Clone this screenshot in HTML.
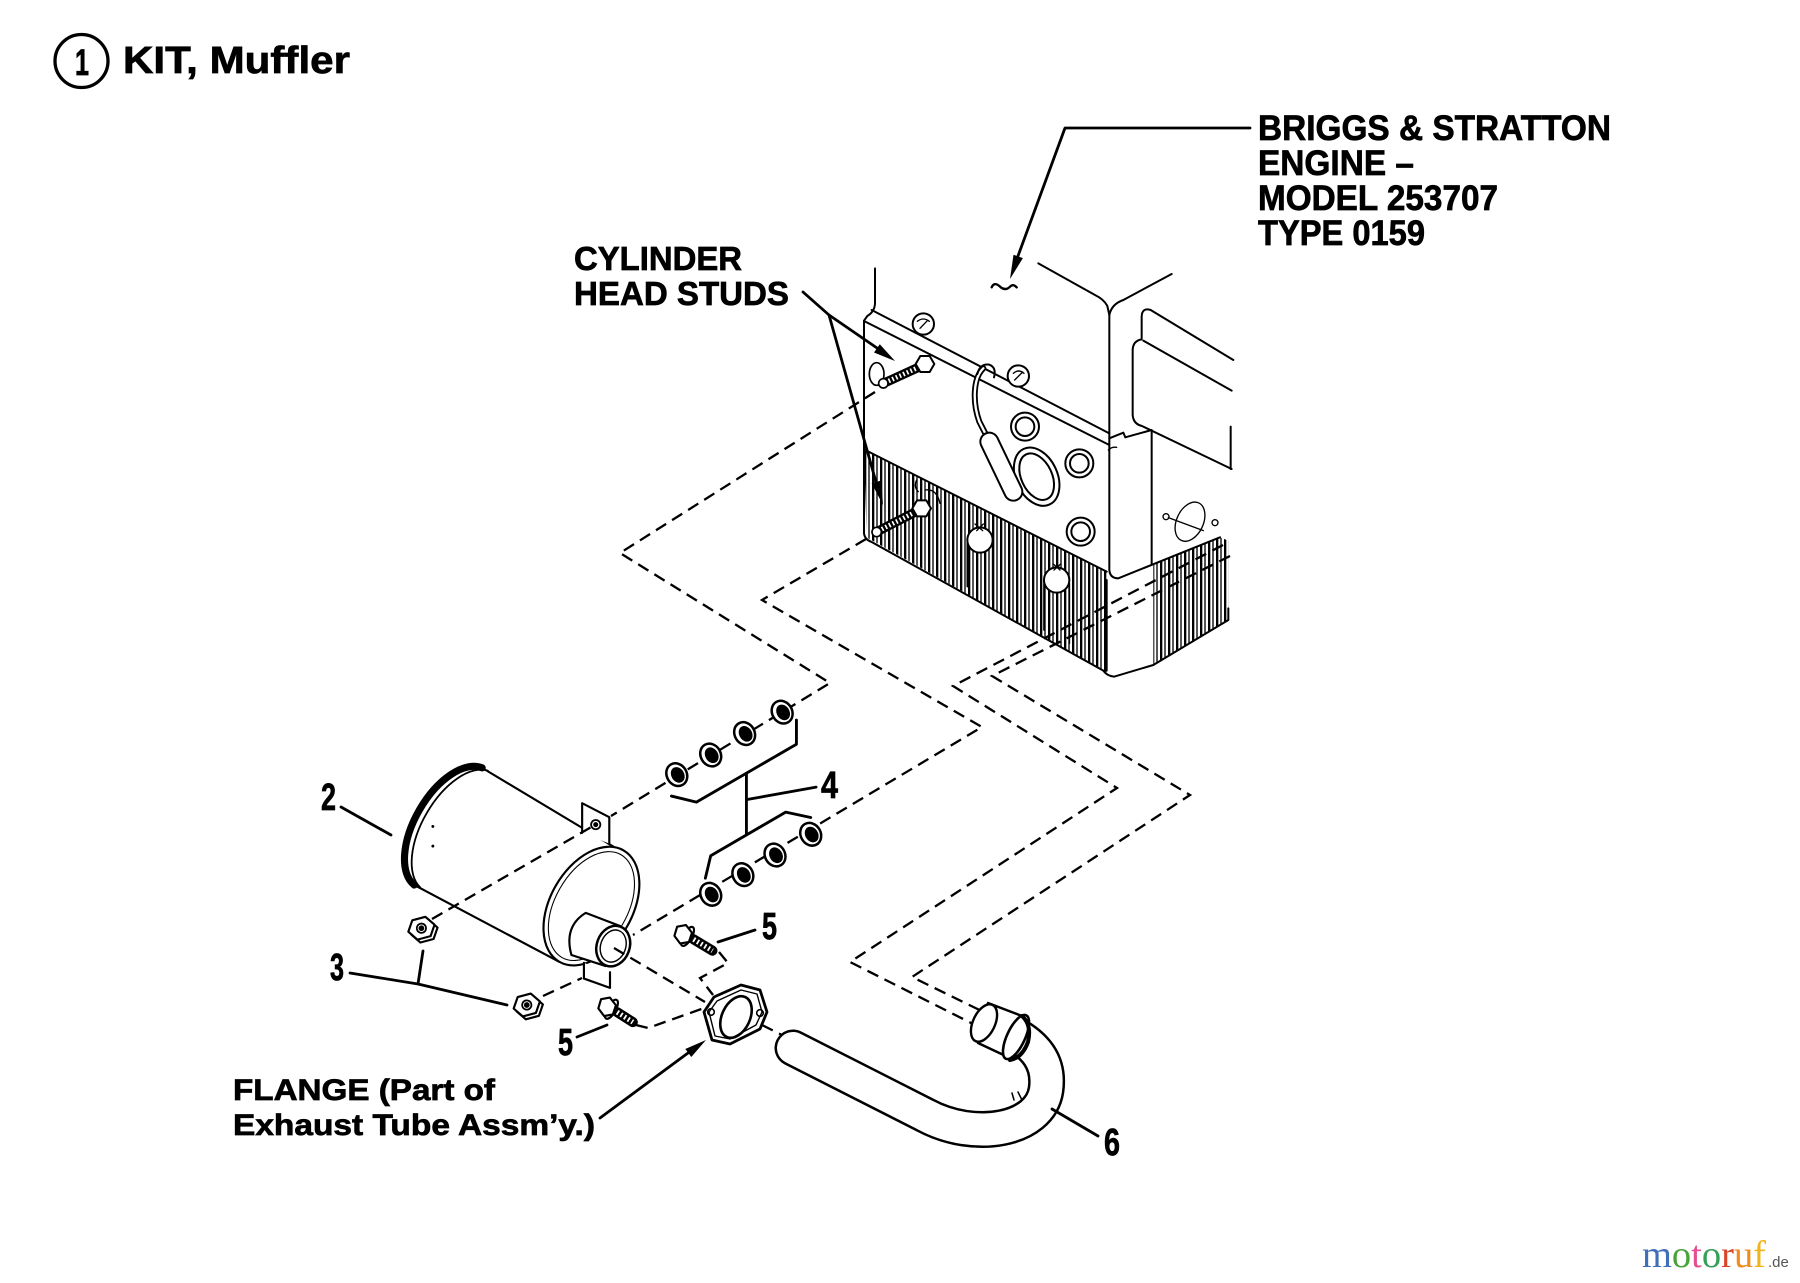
<!DOCTYPE html>
<html><head><meta charset="utf-8"><style>
html,body{margin:0;padding:0;background:#fff;}
svg{display:block;}
text{font-family:"Liberation Sans",Arial,sans-serif;font-weight:bold;fill:#000;stroke:#000;stroke-width:0.7px;}
</style></head><body>
<svg width="1800" height="1283" viewBox="0 0 1800 1283" xmlns="http://www.w3.org/2000/svg">
<defs>
<pattern id="fins" patternUnits="userSpaceOnUse" width="24" height="20">
<rect x="0" y="0" width="7" height="20" fill="#000"/>
<rect x="13" y="0" width="4" height="20" fill="#000"/>
</pattern>
</defs>
<rect width="1800" height="1283" fill="#fff"/>

<!-- ============ TITLE ============ -->
<circle cx="81.5" cy="61" r="26.5" fill="none" stroke="#000" stroke-width="3.3"/>
<text x="75" y="75" font-size="37" textLength="14" lengthAdjust="spacingAndGlyphs">1</text>
<text x="123" y="73" font-size="38" textLength="227" lengthAdjust="spacingAndGlyphs">KIT, Muffler</text>

<!-- ============ ENGINE (zoom coords) ============ -->
<g transform="translate(840,250) scale(0.333333)" stroke="#000" stroke-width="6" fill="none" stroke-linecap="round" stroke-linejoin="round">
<path d="M72,598 L800,965 L800,1268 L80,862 Z" fill="url(#fins)" stroke="none"/>
<path d="M940,943 L1140,862 L1165,872 L1165,1110 L940,1245 Z" fill="url(#fins)" stroke="none"/>
<path d="M105,55 L105,160 Q104,185 82,198 L72,212 L72,850 Q74,868 95,876 L790,1262 Q800,1277 822,1280 L940,1245 L1165,1110 L1165,1075"/>
<path d="M72,598 L800,965"/>
<path d="M95,180 L808,550"/>
<path d="M72,213 L808,585"/>
<path d="M595,40 L765,135 Q792,148 802,168 L808,195 L808,960 Q810,985 835,985 L1140,862"/>
<path d="M808,195 Q815,162 850,150 L995,72"/>
<path d="M808,565 L850,548 L856,562 L935,540 L935,942"/>
<path d="M800,990 L800,1262"/>
<path d="M905,265 L905,200 Q906,172 932,180 L1180,330"/>
<path d="M905,268 Q880,272 878,298 L878,495 Q880,522 906,528 L1175,657"/>
<path d="M910,272 L1175,422"/>
<path d="M1172,530 L1172,657"/>
<path d="M805,600 Q815,590 830,592" stroke-width="4"/>
<!-- fin bolts -->
<path d="M382,872 L382,1010 M458,880 L458,1050" stroke-width="5"/>
<circle cx="420" cy="870" r="38" fill="#fff"/>
<path d="M405,822 L428,842 M430,822 L410,842" stroke-width="4"/>
<path d="M612,992 L612,1140 M688,1000 L688,1180" stroke-width="5"/>
<circle cx="650" cy="990" r="38" fill="#fff"/>
<path d="M640,942 L660,960 M662,942 L642,960" stroke-width="4"/>
<!-- face bolts -->
<circle cx="555" cy="530" r="42" fill="#fff"/><circle cx="555" cy="530" r="28"/>
<circle cx="718" cy="640" r="42" fill="#fff"/><circle cx="718" cy="640" r="28"/>
<circle cx="722" cy="845" r="42" fill="#fff"/><circle cx="722" cy="845" r="28"/>
<!-- top cap screws -->
<circle cx="250" cy="222" r="32" fill="#fff"/><path d="M232,214 Q250,200 268,214 M240,235 L262,212" stroke-width="4"/>
<circle cx="535" cy="378" r="32" fill="#fff"/><path d="M520,370 Q535,356 552,370 M524,390 L548,366" stroke-width="4"/>
<!-- spark plug -->
<ellipse cx="590" cy="680" rx="62" ry="92" transform="rotate(-25 590 680)" fill="#fff"/>
<ellipse cx="590" cy="680" rx="46" ry="74" transform="rotate(-25 590 680)"/>
<path d="M430,355 C398,385 398,460 418,515 L446,570" stroke-width="18"/>
<path d="M430,355 C398,385 398,460 418,515 L446,570" stroke="#fff" stroke-width="7"/>
<path d="M448,575 L520,725" stroke-width="60"/>
<path d="M448,575 L520,725" stroke="#fff" stroke-width="48"/>
<path d="M412,372 Q420,340 448,344 Q470,352 462,382"/>
<!-- upper stud -->
<ellipse cx="110" cy="372" rx="22" ry="34" fill="#fff" stroke-width="5"/>
<path d="M135,398 L240,350" stroke-width="28"/>
<path d="M135,398 L240,350" stroke="#fff" stroke-width="14" stroke-dasharray="5 7" stroke-linecap="butt"/>
<circle cx="130" cy="400" r="14" fill="#fff" stroke-width="5"/>
<polygon points="283,342 269,318 241,318 227,342 241,366 269,366" fill="#fff"/>
<!-- lower stud -->
<path d="M115,843 L232,783" stroke-width="28"/>
<path d="M115,843 L232,783" stroke="#fff" stroke-width="14" stroke-dasharray="5 7" stroke-linecap="butt"/>
<circle cx="110" cy="846" r="14" fill="#fff" stroke-width="5"/>
<polygon points="273,775 259,751 231,751 217,775 231,799 259,799" fill="#fff"/>
<path d="M230,690 Q220,710 235,725 M255,720 Q290,715 300,760" stroke-width="4"/>
<!-- exhaust port -->
<ellipse cx="1050" cy="815" rx="40" ry="62" transform="rotate(25 1050 815)" stroke-width="4"/>
<path d="M985,803 L1090,842" stroke-width="4"/>
<circle cx="978" cy="800" r="9" stroke-width="4"/>
<circle cx="1125" cy="818" r="9" stroke-width="4"/>
<!-- squiggle -->
<path d="M455,112 Q462,95 478,108 Q495,125 510,110 Q520,100 530,112" stroke-width="7"/>
</g>

<!-- ============ MUFFLER BODY (zoom coords) ============ -->
<g transform="translate(300,680) scale(0.357143)" stroke="#000" stroke-width="6" fill="none" stroke-linecap="round" stroke-linejoin="round">
<path d="M510,246 L880,468 L726,789 L320,574 Z" fill="#fff" stroke="none"/>
<path d="M510,246 A100,190 30 0 0 320,574 Z" fill="#fff" stroke="none"/>
<path d="M510,246 L880,468 M320,574 L726,789"/>
<path d="M510,246 A100,190 30 0 0 320,574" stroke-width="20"/>
<path d="M526,254 A100,190 30 0 0 336,580" stroke-width="5"/>
<circle cx="372" cy="410" r="4" fill="#000" stroke="none"/>
<circle cx="372" cy="465" r="4" fill="#000" stroke="none"/>
<path d="M790,428 L790,345 L866,384 L866,458" fill="#fff"/>
<circle cx="828" cy="405" r="13" stroke-width="5"/>
<circle cx="828" cy="405" r="4" fill="#000"/>
<ellipse cx="816" cy="633" rx="115" ry="180" transform="rotate(30 816 633)" fill="#fff"/>
<ellipse cx="816" cy="633" rx="101" ry="166" transform="rotate(30 816 633)" stroke-width="3"/>
<path d="M795,792 L795,836 L868,862 L868,818" fill="#fff"/>
<path d="M800,652 Q738,690 760,770 L856,801 L897,689 Z" fill="#fff" stroke="none"/>
<path d="M760,770 Q738,690 800,652 L897,689 M760,770 L856,801"/>
<ellipse cx="877" cy="745" rx="46" ry="58" transform="rotate(20 877 745)" fill="#fff" stroke-width="7"/>
<ellipse cx="877" cy="745" rx="35" ry="46" transform="rotate(20 877 745)" stroke-width="4"/>
</g>

<!-- ============ DASHED GUIDE LINES ============ -->
<g stroke="#000" stroke-width="2.3" fill="none" stroke-dasharray="12 7">
<path d="M875,392 L620,553 L830,683 L611,816"/>
<path d="M866,539 L762,600 L982,727 L633,935"/>
<path d="M1223,545 L953,686 L1117,788 L850,962 L985,1030"/>
<path d="M1230,556 L992,676 L1190,795 L912,977 L1000,1020"/>
<path d="M432,919 L593,826"/>
<path d="M543,996 L582,978"/>
<path d="M719,952 L728,963 L700,978 L713,995"/>
<path d="M636,1025 L648,1028 L707,1007"/>
<path d="M614,948 L705,1002"/>
<path d="M762,1025 L790,1039"/>
</g>

<!-- ============ SMALL PARTS (zoom coords) ============ -->
<g transform="translate(300,680) scale(0.357143)" stroke="#000" stroke-width="6" fill="none" stroke-linecap="round" stroke-linejoin="round">
<g transform="translate(1055,265) rotate(-30)"><ellipse rx="28" ry="33" fill="#fff" stroke-width="7"/><ellipse cx="2" cy="2" rx="15" ry="20" fill="#000"/></g>
<g transform="translate(1150,210) rotate(-30)"><ellipse rx="28" ry="33" fill="#fff" stroke-width="7"/><ellipse cx="2" cy="2" rx="15" ry="20" fill="#000"/></g>
<g transform="translate(1245,150) rotate(-30)"><ellipse rx="28" ry="33" fill="#fff" stroke-width="7"/><ellipse cx="2" cy="2" rx="15" ry="20" fill="#000"/></g>
<g transform="translate(1350,90) rotate(-30)"><ellipse rx="28" ry="33" fill="#fff" stroke-width="7"/><ellipse cx="2" cy="2" rx="15" ry="20" fill="#000"/></g>
<g transform="translate(1150,600) rotate(-30)"><ellipse rx="28" ry="33" fill="#fff" stroke-width="7"/><ellipse cx="2" cy="2" rx="15" ry="20" fill="#000"/></g>
<g transform="translate(1240,545) rotate(-30)"><ellipse rx="28" ry="33" fill="#fff" stroke-width="7"/><ellipse cx="2" cy="2" rx="15" ry="20" fill="#000"/></g>
<g transform="translate(1330,490) rotate(-30)"><ellipse rx="28" ry="33" fill="#fff" stroke-width="7"/><ellipse cx="2" cy="2" rx="15" ry="20" fill="#000"/></g>
<g transform="translate(1430,432) rotate(-30)"><ellipse rx="28" ry="33" fill="#fff" stroke-width="7"/><ellipse cx="2" cy="2" rx="15" ry="20" fill="#000"/></g>
<g transform="translate(340,695) rotate(-15)">
<polygon points="44,10 25,38 -13,38 -32,10 -13,-18 25,-18" fill="#fff"/>
<polygon points="38,0 19,-28 -19,-28 -38,0 -19,28 19,28" fill="#fff"/>
<circle r="13" stroke-width="5"/><circle r="5" fill="#000"/></g>
<g transform="translate(635,910) rotate(-15)">
<polygon points="44,10 25,38 -13,38 -32,10 -13,-18 25,-18" fill="#fff"/>
<polygon points="38,0 19,-28 -19,-28 -38,0 -19,28 19,28" fill="#fff"/>
<circle r="13" stroke-width="5"/><circle r="5" fill="#000"/></g>
<path d="M1102,726 L1155,758" stroke-width="28"/>
<path d="M1102,726 L1155,758" stroke="#fff" stroke-width="14" stroke-dasharray="5 7" stroke-linecap="butt"/>
<ellipse cx="1085" cy="718" rx="12" ry="30" transform="rotate(30 1085 718)" fill="#fff"/>
<polygon points="1098,712 1085,688 1060,688 1048,712 1060,736 1085,736" fill="#fff" transform="rotate(-10 1073 712)"/>
<path d="M888,930 L932,958" stroke-width="28"/>
<path d="M888,930 L932,958" stroke="#fff" stroke-width="14" stroke-dasharray="5 7" stroke-linecap="butt"/>
<ellipse cx="872" cy="922" rx="12" ry="30" transform="rotate(30 872 922)" fill="#fff"/>
<polygon points="885,915 872,891 847,891 835,915 847,939 872,939" fill="#fff" transform="rotate(-10 860 915)"/>
<path d="M1040,325 L1110,342 L1390,180 L1390,112" stroke-width="8"/>
<path d="M1250,262 L1250,432" stroke-width="8"/>
<path d="M1250,335 L1445,300" stroke-width="8"/>
<path d="M1135,555 L1150,492 L1360,370 L1430,385" stroke-width="8"/>
</g>

<!-- ============ FLANGE ============ -->
<g stroke="#000" fill="none" stroke-linejoin="round">
<polygon points="704,1012 714,997 741,985 760,990 767,1012 760,1029 730,1044 712,1040" fill="#fff" stroke-width="2.8"/>
<polygon points="709,1012 717,1001 741,990 757,994 762,1012 756,1025 730,1039 715,1036" stroke-width="1.4"/>
<ellipse cx="736" cy="1017" rx="14" ry="22" transform="rotate(25 736 1017)" stroke-width="2.6"/>
<circle cx="711" cy="1012" r="3.3" stroke-width="1.6"/>
<circle cx="760" cy="1013" r="3.3" stroke-width="1.6"/>
</g>

<!-- ============ EXHAUST TUBE ============ -->
<g fill="none" stroke-linecap="round" stroke-linejoin="round">
<path d="M793,1048 L925,1115 C975,1142 1040,1130 1046,1090 C1050,1062 1035,1045 1012,1033" stroke="#000" stroke-width="37"/>
<path d="M793,1048 L925,1115 C975,1142 1040,1130 1046,1090 C1050,1062 1035,1045 1012,1033" stroke="#fff" stroke-width="32"/>
<polygon points="988,1003 1022,1016 1010,1058 978,1043" fill="#fff" stroke="#000" stroke-width="2.4"/>
<ellipse cx="984" cy="1023" rx="11" ry="20" transform="rotate(25 984 1023)" fill="#fff" stroke="#000" stroke-width="2.4"/>
<ellipse cx="1016" cy="1037" rx="9" ry="24" transform="rotate(25 1016 1037)" fill="#fff" stroke="#000" stroke-width="2.6"/>
<path d="M1022,1016 Q1032,1025 1028,1042 Q1022,1058 1010,1060" stroke="#000" stroke-width="4"/>
<path d="M1012,1093 L1014,1100 M1018,1092 L1022,1100" stroke="#000" stroke-width="1.5"/>
</g>

<!-- ============ LEADERS & ARROWS ============ -->
<g stroke="#000" stroke-width="2.8" fill="none" stroke-linecap="round" stroke-linejoin="round">
<polyline points="1250,128 1065,128 1018,256"/>
<polyline points="803,292 829,315 877,348"/>
<polyline points="829,315 876,482"/>
<polyline points="600,1118 688,1053"/>
<path d="M341,807 L391,835"/>
<polyline points="350,973 418,984 507,1005"/>
<path d="M418,984 L423,951"/>
<path d="M718,942 L755,930"/>
<path d="M577,1037 L607,1025"/>
<path d="M1052,1109 L1098,1136"/>
</g>
<g fill="#000">
<polygon points="1010,279 1022.9,258.1 1013.5,254.7"/>
<polygon points="895,361 874.0,352.5 879.8,344.3"/>
<polygon points="883,505 871.6,483.3 881.2,480.5"/>
<polygon points="706,1040 691.3,1057 685.3,1049"/>
</g>

<!-- ============ TEXT ============ -->
<text x="1258" y="140" font-size="35" textLength="353" lengthAdjust="spacingAndGlyphs">BRIGGS &amp; STRATTON</text>
<text x="1258" y="175" font-size="35" textLength="156" lengthAdjust="spacingAndGlyphs">ENGINE –</text>
<text x="1258" y="210" font-size="35" textLength="240" lengthAdjust="spacingAndGlyphs">MODEL 253707</text>
<text x="1258" y="245" font-size="35" textLength="167" lengthAdjust="spacingAndGlyphs">TYPE 0159</text>

<text x="574" y="270" font-size="33" textLength="168" lengthAdjust="spacingAndGlyphs">CYLINDER</text>
<text x="574" y="305" font-size="33" textLength="215" lengthAdjust="spacingAndGlyphs">HEAD STUDS</text>

<text x="233" y="1100" font-size="30" textLength="262" lengthAdjust="spacingAndGlyphs">FLANGE (Part of</text>
<text x="233" y="1135" font-size="30" textLength="362" lengthAdjust="spacingAndGlyphs">Exhaust Tube Assm’y.)</text>

<text x="321" y="810" font-size="38" textLength="15" lengthAdjust="spacingAndGlyphs">2</text>
<text x="330" y="980" font-size="38" textLength="14" lengthAdjust="spacingAndGlyphs">3</text>
<text x="821" y="798" font-size="38" textLength="17" lengthAdjust="spacingAndGlyphs">4</text>
<text x="762" y="939" font-size="38" textLength="15" lengthAdjust="spacingAndGlyphs">5</text>
<text x="558" y="1055" font-size="38" textLength="15" lengthAdjust="spacingAndGlyphs">5</text>
<text x="1104" y="1155" font-size="38" textLength="16" lengthAdjust="spacingAndGlyphs">6</text>

<text x="1642" y="1267" font-size="38" textLength="124" lengthAdjust="spacingAndGlyphs" style="font-family:'Liberation Serif',serif;font-weight:normal;stroke:none;"><tspan fill="#3f6fb6">m</tspan><tspan fill="#4aa33a">o</tspan><tspan fill="#e4508f">t</tspan><tspan fill="#35a05a">o</tspan><tspan fill="#d9452b">r</tspan><tspan fill="#f08c1e">u</tspan><tspan fill="#f1b51c">f</tspan></text>
<text x="1768" y="1267" font-size="15" style="font-family:'Liberation Sans',sans-serif;font-weight:normal;fill:#555;stroke:none;">.de</text>
</svg>
</body></html>
